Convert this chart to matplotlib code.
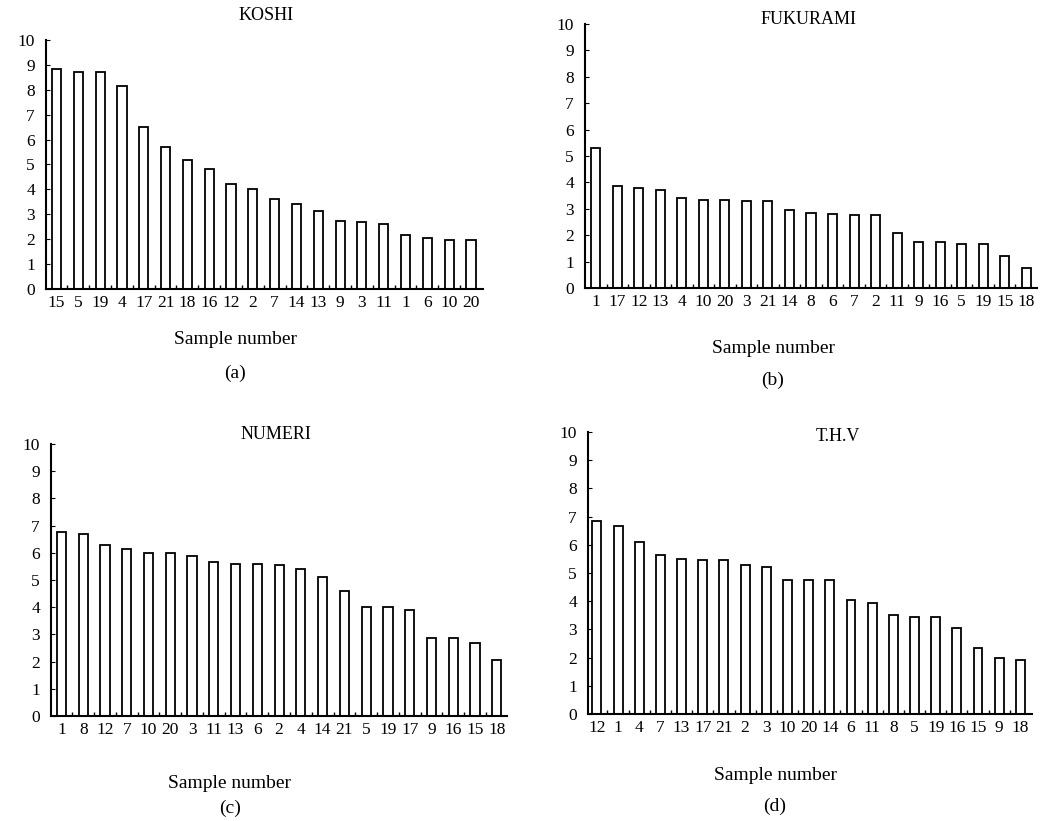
import numpy as np
import matplotlib.pyplot as plt

plt.rcParams['font.family'] = ['Liberation Serif', 'DejaVu Serif']

koshi_labels = ['15', '5', '19', '4', '17', '21', '18', '16', '12', '2', '7', '14', '13', '9', '3', '11', '1', '6', '10', '20']
koshi_values = [8.85, 8.7, 8.7, 8.15, 6.5, 5.7, 5.2, 4.8, 4.2, 4.0, 3.6, 3.4, 3.15, 2.75, 2.7, 2.6, 2.15, 2.05, 1.95, 1.95]

fuku_labels = ['1', '17', '12', '13', '4', '10', '20', '3', '21', '14', '8', '6', '7', '2', '11', '9', '16', '5', '19', '15', '18']
fuku_values = [5.3, 3.85, 3.8, 3.7, 3.4, 3.35, 3.35, 3.3, 3.3, 2.95, 2.85, 2.8, 2.75, 2.75, 2.1, 1.75, 1.75, 1.65, 1.65, 1.2, 0.75]

numeri_labels = ['1', '8', '12', '7', '10', '20', '3', '11', '13', '6', '2', '4', '14', '21', '5', '19', '17', '9', '16', '15', '18']
numeri_values = [6.75, 6.7, 6.3, 6.15, 6.0, 6.0, 5.9, 5.65, 5.6, 5.6, 5.55, 5.4, 5.1, 4.6, 4.0, 4.0, 3.9, 2.85, 2.85, 2.7, 2.05]

thv_labels = ['12', '1', '4', '7', '13', '17', '21', '2', '3', '10', '20', '14', '6', '11', '8', '5', '19', '16', '15', '9', '18']
thv_values = [6.85, 6.65, 6.1, 5.65, 5.5, 5.45, 5.45, 5.3, 5.2, 4.75, 4.75, 4.75, 4.05, 3.95, 3.5, 3.45, 3.45, 3.05, 2.35, 2.0, 1.9]

W, H = 1041, 821
fig = plt.figure(figsize=(W / 100, H / 100), dpi=100)


def px_axes(left, right, bottom, top):
    return fig.add_axes([left / W, 1 - bottom / H, (right - left) / W, (bottom - top) / H])


def px_text(x, y, s, size=13):
    fig.text(x / W, 1 - y / H, s, ha='center', va='center', fontsize=size)


panels = [
    # title, labels, values, axes box (left, right, bottom, top), xlim, title xy, label x, xlabel y, letter y, letter
    ('KOSHI', koshi_labels, koshi_values, (46, 483, 289, 40), (-0.48, 19.55), (266, 16), 235, 340, 373, '(a)'),
    ('FUKURAMI', fuku_labels, fuku_values, (585, 1037, 288, 24), (-0.5, 20.5), (809, 19), 773, 348, 380, '(b)'),
    ('NUMERI', numeri_labels, numeri_values, (51, 507, 716, 444), (-0.48, 20.47), (276, 434), 230, 783, 808, '(c)'),
    ('T.H.V', thv_labels, thv_values, (588, 1032, 714, 432), (-0.42, 20.55), (838, 436), 775, 775, 806, '(d)'),
]

for title, labels, values, box, xlim, txy, lx, ly, lety, letter in panels:
    ax = px_axes(*box)
    x = np.arange(len(values))
    ax.bar(x, values, width=0.42, color='white', edgecolor='black', linewidth=1.3)
    ax.set_xlim(*xlim)
    ax.set_ylim(0, 10)
    ax.set_yticks(range(0, 11))
    ax.set_xticks(x)
    ax.set_xticklabels(labels, fontsize=12.5)
    ax.set_xticks(x[:-1] + 0.5, minor=True)
    ax.tick_params(axis='x', which='major', length=0, pad=4)
    ax.tick_params(axis='x', which='minor', direction='in', length=3, width=1)
    ax.tick_params(axis='y', direction='in', length=3, width=0.8, labelsize=12.5, pad=8)
    for s in ['top', 'right']:
        ax.spines[s].set_visible(False)
    ax.spines['left'].set_linewidth(1.5)
    ax.spines['bottom'].set_linewidth(1.5)
    px_text(txy[0], txy[1], title, 13)
    px_text(lx, ly, 'Sample number', 14)
    px_text(lx, lety, letter, 14)

fig.savefig('out.png', dpi=100)
